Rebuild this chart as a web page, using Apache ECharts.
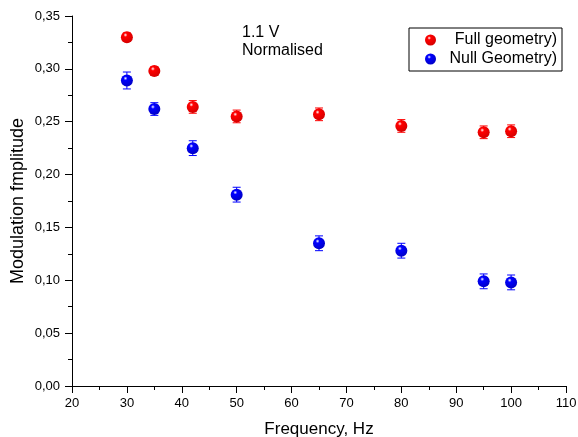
<!DOCTYPE html>
<html>
<head>
<meta charset="utf-8">
<script src="https://cdn.jsdelivr.net/npm/echarts@6/dist/echarts.min.js"></script>
<style>html,body{margin:0;padding:0;background:#fff}#c{width:578px;height:437px}</style>
</head>
<body>
<div id="c"></div>
<script>
var freq = [30, 35, 42, 50, 65, 80, 95, 100];
var fullVals = [0.330, 0.298, 0.264, 0.255, 0.257, 0.246, 0.240, 0.241];
var fullErr = [0.004, 0.004, 0.006, 0.006, 0.006, 0.006, 0.006, 0.006];
var nullVals = [0.289, 0.262, 0.225, 0.181, 0.135, 0.128, 0.099, 0.098];
var nullErr = [0.008, 0.006, 0.007, 0.007, 0.007, 0.007, 0.007, 0.007];
var xTicks = [20, 30, 40, 50, 60, 70, 80, 90, 100, 110];
var yTicks = ['0,00','0,05','0,10','0,15','0,20','0,25','0,30','0,35'];

var FONT = 'Liberation Sans, Arial, sans-serif';
function ball(c, dark) {
  return new echarts.graphic.RadialGradient(0.38, 0.32, 0.75, [
    {offset: 0, color: '#ffffff'},
    {offset: 0.22, color: c},
    {offset: 1, color: dark}
  ]);
}
function pts(v) { return freq.map(function (f, i) { return [f, v[i]]; }); }
function errData(v, e) { return freq.map(function (f, i) { return [f, v[i] - e[i], v[i] + e[i]]; }); }
function errRender(color) {
  return function (params, api) {
    var lo = api.coord([api.value(0), api.value(1)]);
    var hi = api.coord([api.value(0), api.value(2)]);
    var w = 4;
    var st = {stroke: color, lineWidth: 1};
    return {type: 'group', children: [
      {type: 'line', shape: {x1: lo[0], y1: lo[1], x2: hi[0], y2: hi[1]}, style: st},
      {type: 'line', shape: {x1: lo[0] - w, y1: lo[1], x2: lo[0] + w, y2: lo[1]}, style: st},
      {type: 'line', shape: {x1: hi[0] - w, y1: hi[1], x2: hi[0] + w, y2: hi[1]}, style: st}
    ]};
  };
}

var chart = echarts.init(document.getElementById('c'), null, {renderer: 'canvas'});
chart.setOption({
  animation: false,
  backgroundColor: '#fff',
  textStyle: {fontFamily: FONT},
  grid: {left: 72, right: 12, top: 16, bottom: 51, containLabel: false, outerBoundsMode: 'none'},
  legend: {
    right: 16, top: 28, orient: 'vertical',
    data: ['Full geometry)', 'Null Geometry)'],
    borderColor: '#000', borderWidth: 1, padding: [4, 5, 4, 16],
    itemGap: 3, itemWidth: 11, itemHeight: 11, icon: 'circle',
    formatter: function (n) { return '{a|' + n + '}'; },
    textStyle: {fontFamily: FONT, fontSize: 16, color: '#000',
      rich: {a: {fontFamily: FONT, fontSize: 16, color: '#000', width: 116, align: 'right'}}}
  },
  xAxis: {
    type: 'value', min: 20, max: 110, interval: 10,
    name: 'Frequency, Hz', nameLocation: 'middle', nameGap: 35, nameMoveOverlap: false,
    nameTextStyle: {fontFamily: FONT, fontSize: 17, color: '#000'},
    axisLine: {show: true, lineStyle: {color: '#000', width: 1}},
    axisTick: {show: true, length: 7, lineStyle: {color: '#000'}},
    minorTick: {show: true, splitNumber: 2, length: 4, lineStyle: {color: '#000'}},
    splitLine: {show: false},
    axisLabel: {fontFamily: FONT, fontSize: 13, color: '#000', margin: 11,
      formatter: function (v) { return xTicks.indexOf(v) >= 0 ? String(v) : ''; }}
  },
  yAxis: {
    type: 'value', min: 0, max: 0.35, interval: 0.05,
    name: 'Modulation fmplitude', nameLocation: 'middle', nameGap: 45, nameMoveOverlap: false,
    nameTextStyle: {fontFamily: FONT, fontSize: 18, color: '#000'},
    axisLine: {show: true, lineStyle: {color: '#000', width: 1}},
    axisTick: {show: true, length: 7, lineStyle: {color: '#000'}},
    minorTick: {show: true, splitNumber: 2, length: 4, lineStyle: {color: '#000'}},
    splitLine: {show: false},
    axisLabel: {fontFamily: FONT, fontSize: 13, color: '#000', margin: 12,
      formatter: function (v) { return yTicks[Math.round(v / 0.05)]; }}
  },
  graphic: [
    {type: 'text', left: 242, top: 25, style: {text: '1.1 V', fontFamily: FONT, fontSize: 16, fill: '#000'}},
    {type: 'text', left: 242, top: 43, style: {text: 'Normalised', fontFamily: FONT, fontSize: 16, fill: '#000'}}
  ],
  series: [
    {type: 'custom', name: 'errFull', renderItem: errRender('#ff0000'), data: errData(fullVals, fullErr), z: 1, silent: true, encode: {x: 0, y: [1, 2]}},
    {type: 'custom', name: 'errNull', renderItem: errRender('#0000ff'), data: errData(nullVals, nullErr), z: 1, silent: true, encode: {x: 0, y: [1, 2]}},
    {type: 'scatter', name: 'Full geometry)', data: pts(fullVals), symbolSize: 12, z: 3,
      itemStyle: {color: ball('#ff0000', '#d00000'), opacity: 1}},
    {type: 'scatter', name: 'Null Geometry)', data: pts(nullVals), symbolSize: 12, z: 3,
      itemStyle: {color: ball('#0000ff', '#0000c0'), opacity: 1}}
  ]
});
</script>
</body>
</html>
